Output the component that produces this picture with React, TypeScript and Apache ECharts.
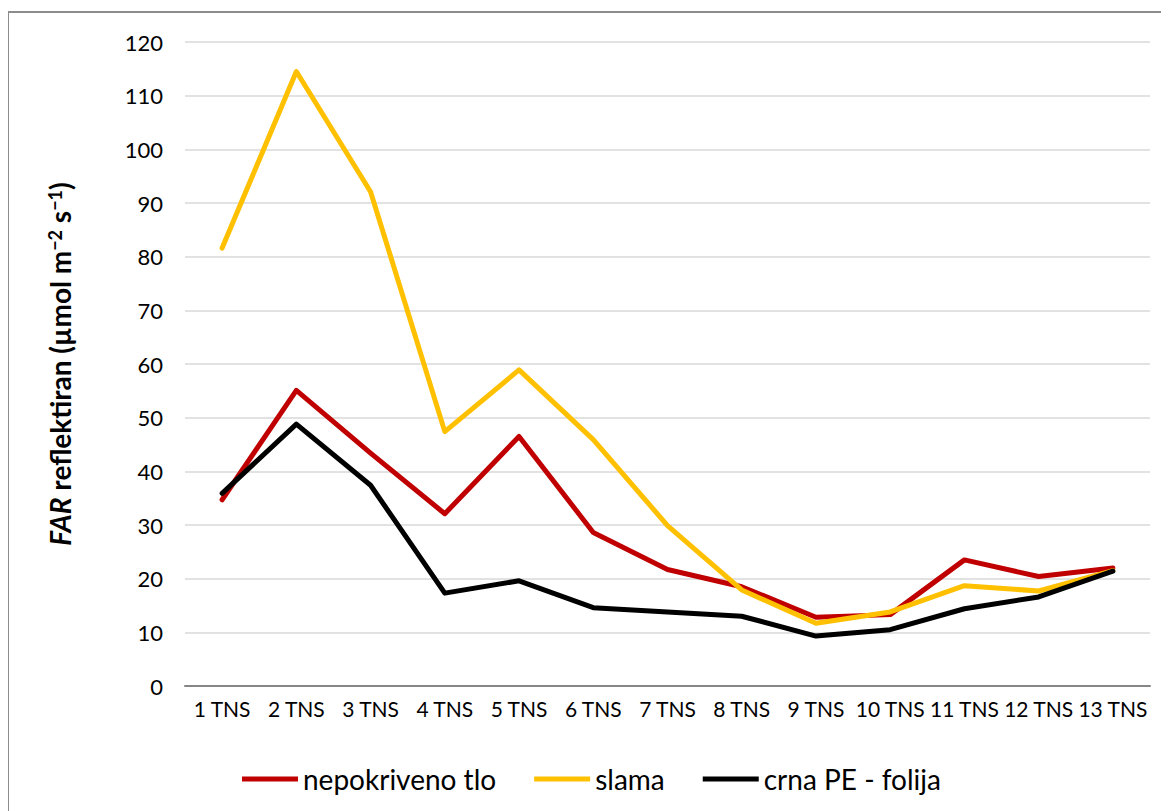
import React, { useEffect, useRef } from "react";
import * as echarts from "echarts";

const categories = ["1 TNS", "2 TNS", "3 TNS", "4 TNS", "5 TNS", "6 TNS", "7 TNS", "8 TNS", "9 TNS", "10 TNS", "11 TNS", "12 TNS", "13 TNS"];
const nepokriveno = [34.7, 55.1, 43.4, 32.1, 46.5, 28.6, 21.7, 18.5, 12.8, 13.3, 23.5, 20.4, 22.0];
const slama = [81.6, 114.5, 92.1, 47.4, 58.9, 45.9, 29.9, 17.9, 11.7, 13.8, 18.7, 17.7, 21.5];
const crna = [35.9, 48.8, 37.4, 17.3, 19.6, 14.6, 13.8, 13.0, 9.3, 10.5, 14.4, 16.6, 21.4];
const seriesNames = ["nepokriveno tlo", "slama", "crna PE - folija"];
const seriesColors = ["#C00000", "#FFC000", "#000000"];

const FONT = "Lato, 'Noto Sans', sans-serif";

export default function App() {
  const ref = useRef<HTMLDivElement>(null);
  useEffect(() => {
    if (!ref.current) return;
    const chart = echarts.init(ref.current, undefined, { renderer: "svg" });
    const data = [nepokriveno, slama, crna];
    chart.setOption({
      animation: false,
      backgroundColor: "#ffffff",
      textStyle: { fontFamily: FONT },
      graphic: [
        {
          type: "rect",
          shape: { x: 0, y: 4, width: 1300, height: 1000 },
          style: { fill: "none", stroke: "#8c8c8c", lineWidth: 2 },
          silent: true,
        },
      ],
      grid: { left: 177, top: 34, right: 19, bottom: 125, containLabel: false },
      legend: {
        left: 229,
        top: 752,
        icon: "rect",
        itemWidth: 56,
        itemHeight: 5,
        itemGap: 38,
        textStyle: { fontFamily: FONT, fontSize: 28, color: "#000" },
        data: seriesNames,
      },
      xAxis: {
        type: "category",
        data: categories,
        boundaryGap: true,
        axisLine: { lineStyle: { color: "#868686", width: 2 } },
        axisTick: { show: false },
        axisLabel: { color: "#000", fontSize: 21, fontFamily: FONT, margin: 12, interval: 0 },
      },
      yAxis: {
        type: "value",
        min: 0,
        max: 120,
        interval: 10,
        axisLine: { show: false },
        axisTick: { show: false },
        splitLine: { lineStyle: { color: "#d9d9d9", width: 1.5 } },
        axisLabel: { color: "#000", fontSize: 22, fontFamily: FONT, margin: 22 },
        name: "{i|FAR} reflektiran (µmol m{sup|−2} s{sup|−1})",
        nameLocation: "middle",
        nameRotate: 90,
        nameGap: 111,
        nameTextStyle: {
          fontFamily: FONT,
          fontSize: 28,
          fontWeight: "bold",
          color: "#000",
          rich: {
            i: { fontFamily: FONT, fontSize: 28, fontWeight: "bold", fontStyle: "italic", color: "#000" },
            sup: { fontFamily: FONT, fontSize: 18, fontWeight: "bold", color: "#000", verticalAlign: "top", padding: [0, 0, 10, 0] },
          },
        },
      },
      series: data.map((d, i) => ({
        name: seriesNames[i],
        type: "line",
        data: d,
        color: seriesColors[i],
        symbol: "none",
        lineStyle: { width: 5, color: seriesColors[i], cap: "round", join: "round" },
        z: 2 + i,
      })),
    });
    return () => chart.dispose();
  }, []);
  return <div ref={ref} style={{ width: 1161, height: 803 }} />;
}
